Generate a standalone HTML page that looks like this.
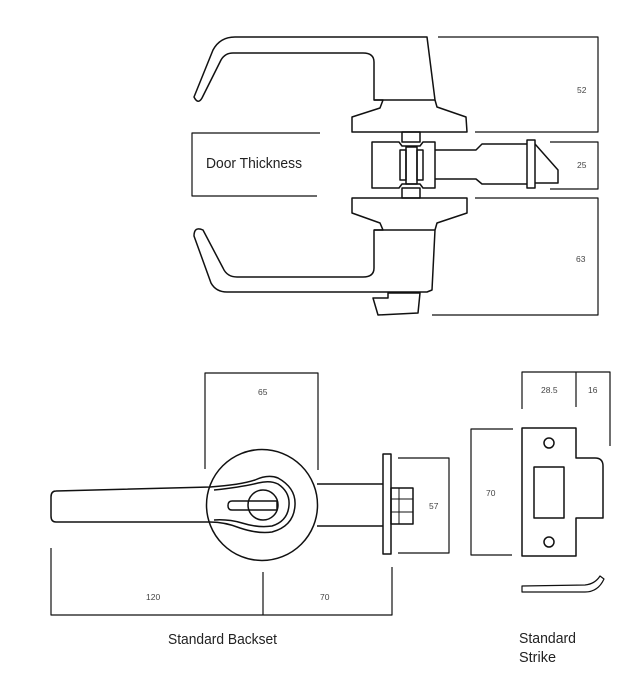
<!DOCTYPE html>
<html><head><meta charset="utf-8"><style>
html,body{margin:0;padding:0;background:#fff;}
svg{display:block;}
text{font-family:"Liberation Sans",sans-serif;}
.d{font-size:8.5px;fill:#444;}
.t{font-size:14.5px;fill:#222;}
</style></head><body>
<svg width="631" height="696" viewBox="0 0 631 696" xmlns="http://www.w3.org/2000/svg">
<g fill="none" stroke="#111" stroke-width="1.5" stroke-linejoin="round">
<path d="M194,97 L213,50 Q220,37 235,37 L427,37 L435,100 L437,107 L466,117 L467,132 L352,132 L352,117 L380,108 L383,100 L374,100 L374,62 Q374,53 363,53 L233,53 Q225,53 221,60 L202,98 Q198,105 194,97 Z"/>
<line x1="374" y1="100" x2="435" y2="100"/>
<rect x="402" y="132" width="18" height="10"/>
<rect x="402" y="188" width="18" height="10"/>
<path d="M372,142 L399,142 L402,146 L420,146 L423,142 L435,142 L435,188 L423,188 L420,184 L402,184 L399,188 L372,188 Z"/>
<rect x="400" y="150" width="6" height="30"/>
<rect x="417" y="150" width="6" height="30"/>
<rect x="406" y="147" width="11" height="37"/>
<path d="M435,150 L476,150 L482,144 L527,144 M435,179 L476,179 L482,184 L527,184"/>
<rect x="527" y="140" width="8" height="48"/>
<path d="M535,144 L558,170 L558,183 L535,183"/>
<path d="M352,198 L467,198 L467,213 L437,223 L435,230 L432,290 L427,292 L227,292 Q216,292 211,283 L194,236 Q194,226 203,230 L223,268 Q227,277 237,277 L363,277 Q374,277 374,268 L374,230 L383,230 L380,223 L352,213 Z"/>
<line x1="374" y1="230" x2="435" y2="230"/>
<path d="M388,293 L420,293 L418,313 L378,315 L373,298 L388,298 Z"/>
<path d="M320,133 L192,133 L192,196 L317,196" stroke-width="1.2"/>
<path d="M438,37 L598,37 L598,132 L475,132" stroke-width="1.2"/>
<path d="M550,142 L598,142 L598,189 L550,189" stroke-width="1.2"/>
<path d="M475,198 L598,198 L598,315 L432,315" stroke-width="1.2"/>

<path d="M205,469 L205,373 L318,373 L318,470" stroke-width="1.2"/>
<circle cx="262" cy="505" r="55.5"/>
<path d="M56,491 L210,487 Q240,485 255,480 Q268,474 278,478 Q296,488 295,505 Q294,526 272,532 Q258,534 240,528 Q225,522 210,522 L56,522 Q51,522 51,516 L51,497 Q51,491 56,491 Z"/>
<path d="M214,490 Q242,487 258,483 Q270,480 278,484 Q290,492 289,505 Q288,521 272,526 Q258,528 242,523 Q228,519 214,520"/>
<circle cx="263" cy="505" r="15"/>
<path d="M232,501 L277,501 L277,510 L232,510 Q228,510 228,505.5 Q228,501 232,501 Z"/>
<path d="M317,484 L383,484 M317,526 L383,526"/>
<rect x="383" y="454" width="8" height="100"/>
<rect x="391" y="488" width="22" height="36"/>
<path d="M391,499 L413,499 M391,512 L413,512 M399,488 L399,524" stroke-width="1"/>
<path d="M398,458 L449,458 L449,553 L398,553" stroke-width="1.2"/>
<path d="M51,548 L51,615 L392,615 L392,567 M263,572 L263,615" stroke-width="1.2"/>

<path d="M522,409 L522,372 L610,372 L610,446 M576,372 L576,407" stroke-width="1.2"/>
<path d="M513,429 L471,429 L471,555 L512,555" stroke-width="1.2"/>
<path d="M522,428 L576,428 L576,458 L595,458 Q603,458 603,466 L603,518 L576,518 L576,556 L522,556 Z"/>
<circle cx="549" cy="443" r="5"/>
<circle cx="549" cy="542" r="5"/>
<rect x="534" y="467" width="30" height="51"/>
<path d="M522,586 L585,585 Q595,584 600,576 L604,579 Q598,592 585,592 L522,592 Z" stroke-width="1.2"/>
</g>
<text x="206" y="168" class="t" textLength="96" lengthAdjust="spacingAndGlyphs">Door Thickness</text>
<text x="577" y="93" class="d">52</text>
<text x="577" y="168" class="d">25</text>
<text x="576" y="262" class="d">63</text>
<text x="258" y="395" class="d">65</text>
<text x="429" y="509" class="d">57</text>
<text x="146" y="600" class="d">120</text>
<text x="320" y="600" class="d">70</text>
<text x="168" y="644" class="t" textLength="109" lengthAdjust="spacingAndGlyphs">Standard Backset</text>
<text x="541" y="393" class="d">28.5</text>
<text x="588" y="393" class="d">16</text>
<text x="486" y="496" class="d">70</text>
<text x="519" y="643" class="t" textLength="57" lengthAdjust="spacingAndGlyphs">Standard</text>
<text x="519" y="662" class="t" textLength="37" lengthAdjust="spacingAndGlyphs">Strike</text>
</svg>
</body></html>
